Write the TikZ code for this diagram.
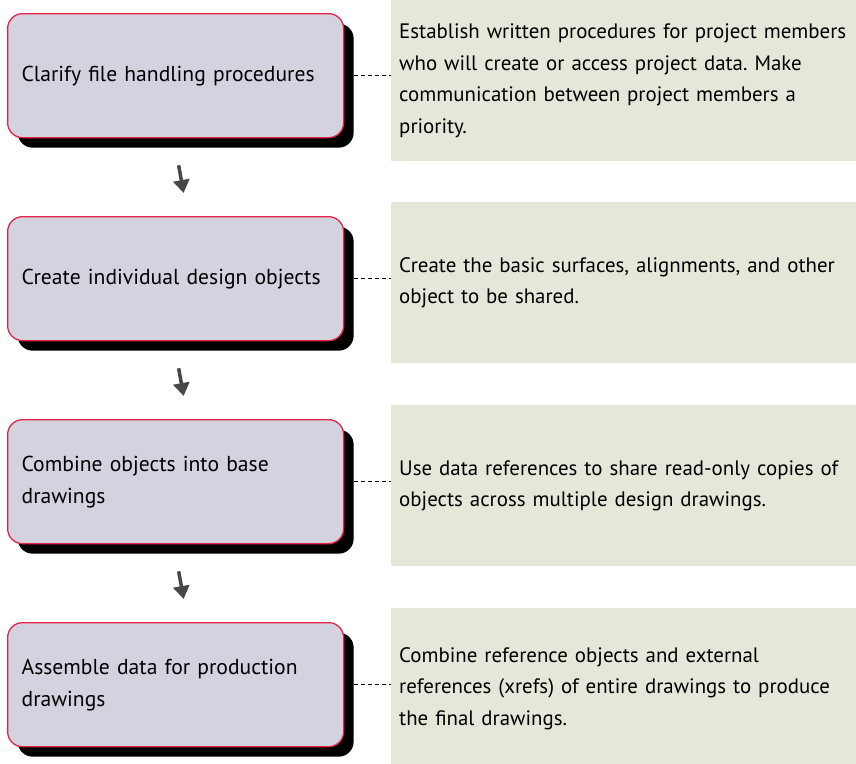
\documentclass[tikz,border=0pt]{standalone}
\usepackage{fontspec}
\setmainfont{PT Sans}
\usetikzlibrary{shadows,arrows.meta}
\definecolor{stepfill}{HTML}{D3D3DF}
\definecolor{stepline}{HTML}{E3244A}
\definecolor{notefill}{HTML}{E5E8D9}
\definecolor{arrowgray}{HTML}{474747}
\frenchspacing
\tikzset{
  stepbox/.style={draw=stepline, line width=1.3pt, fill=stepfill, rounded corners=15pt,
    minimum width=336pt, minimum height=124pt, text width=308pt, inner xsep=14pt,
    align=left, anchor=north west, font=\fontsize{21.6}{32}\selectfont,
    drop shadow={shadow xshift=10pt, shadow yshift=-10pt, fill=black, opacity=1}},
  notebox/.style={fill=notefill, minimum width=465pt, minimum height=161pt,
    text width=520pt, inner xsep=8pt, align=left, anchor=north west,
    font=\fontsize{20.9}{31.5}\selectfont},
  linkline/.style={black, line width=1.1pt, dash pattern=on 4pt off 3pt},
  flowarrow/.style={arrowgray, line width=3.5pt, -{Triangle[width=16pt,length=13pt]}}
}
\begin{document}
\begin{tikzpicture}[x=1pt,y=-1pt]
\useasboundingbox (0,0) rectangle (856,763);
\node[stepbox] (s1) at (7,13) {Clarify file handling procedures};
\node[stepbox] (s2) at (7,216) {Create individual design objects};
\node[stepbox] (s3) at (7,419) {Combine objects into base\\drawings};
\node[stepbox] (s4) at (7,622) {Assemble data for production\\drawings};
\node[notebox] (n1) at (391,0) {Establish written procedures for project members\\who will create or access project data. Make\\communication between project members a\\priority.};
\node[notebox] (n2) at (391,202) {Create the basic surfaces, alignments, and other\\object to be shared.};
\node[notebox] (n3) at (391,405) {Use data references to share read-only copies of\\objects across multiple design drawings.};
\node[notebox] (n4) at (391,608) {Combine reference objects and external\\references (xrefs) of entire drawings to produce\\the final drawings.};
\foreach \i in {1,2,3,4}{
  \coordinate (d\i) at ([xshift=10pt]s\i.east);
  \draw[linkline] (d\i) -- (n\i.west |- d\i);
}
\foreach \a/\b in {1/2,2/3,3/4}{
  \coordinate (t\a) at ([xshift=3pt,yshift=-27pt]s\a.south);
  \coordinate (h\a) at ([xshift=8pt,yshift=23pt]s\b.north);
  \draw[flowarrow] (t\a) -- (h\a);
}
\end{tikzpicture}
\end{document}
